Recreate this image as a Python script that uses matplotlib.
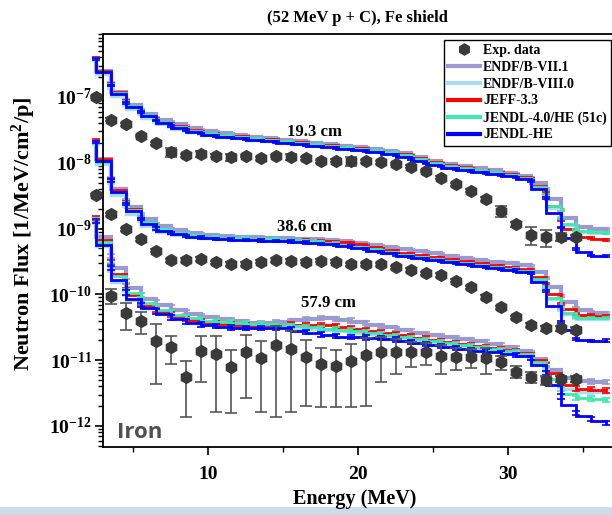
import numpy as np
import matplotlib
matplotlib.use("Agg")
import matplotlib.pyplot as plt
from matplotlib.ticker import LogLocator, NullFormatter, FixedLocator, FixedFormatter
from matplotlib.patches import Rectangle
from matplotlib.lines import Line2D

plt.rcParams['font.family'] = ['Liberation Serif', 'DejaVu Serif']
plt.rcParams['font.weight'] = 'bold'
plt.rcParams['mathtext.fontset'] = 'custom'
plt.rcParams['mathtext.rm'] = 'Liberation Serif:bold'
plt.rcParams['mathtext.it'] = 'Liberation Serif:bold'
plt.rcParams['mathtext.bf'] = 'Liberation Serif:bold'

# ---------------- data ----------------
E_sim = [2.5, 3.5, 4.5, 5.5, 6.5, 7.5, 8.5, 9.5, 10.5, 11.5, 12.5, 13.5, 14.5, 15.5, 16.5, 17.5, 18.5,
         19.5, 20.5, 21.5, 22.5, 23.5, 24.5, 25.5, 26.5, 27.5, 28.5, 29.5, 30.5, 31.5, 32.5, 33.5,
         34.5, 35.5, 36.5]
E_exp = [2.5, 3.5, 4.5, 5.5, 6.5, 7.5, 8.5, 9.5, 10.5, 11.5, 12.5, 13.5, 14.5, 15.5, 16.5, 17.5, 18.5,
         19.5, 20.5, 21.5, 22.5, 23.5, 24.5, 25.5, 26.5, 27.5, 28.5, 29.5, 30.5, 31.5, 32.5, 33.5, 34.5]
E_exp58 = E_exp[1:]

x_major_ticks = [10, 20, 30]
x_minor_ticks = [5, 15, 25, 35]
y_major_ticks = [1e-12, 1e-11, 1e-10, 1e-9, 1e-8, 1e-7]
y_tick_labels = [r'$10^{-12}$', r'$10^{-11}$', r'$10^{-10}$', r'$10^{-9}$', r'$10^{-8}$', r'$10^{-7}$']

# experimental data
exp19 = [1.0e-7, 4.5e-8, 3.85e-8, 2.55e-8, 1.98e-8, 1.45e-8, 1.3e-8, 1.37e-8, 1.29e-8, 1.22e-8,
         1.27e-8, 1.17e-8, 1.27e-8, 1.24e-8, 1.17e-8, 1.06e-8, 1.08e-8, 1.06e-8, 1.06e-8, 1.02e-8,
         9.6e-9, 8.7e-9, 7.5e-9, 5.9e-9, 4.7e-9, 3.77e-9, 2.82e-9, 1.85e-9, 1.16e-9, 8.0e-10,
         7.4e-10, 7.5e-10, 7.4e-10]
err19 = [0.04, 0.05, 0.05, 0.05, 0.05, 0.15, 0.05, 0.12, 0.05, 0.12,
         0.05, 0.05, 0.05, 0.10, 0.05, 0.05, 0.05, 0.15, 0.05, 0.05,
         0.05, 0.05, 0.05, 0.05, 0.05, 0.06, 0.08, 0.18, 0.08, 0.30,
         0.30, 0.15, 0.08]
exp38 = [3.24e-9, 1.65e-9, 9.75e-10, 6.87e-10, 4.6e-10, 3.3e-10, 3.33e-10, 3.45e-10, 3.07e-10, 2.9e-10,
         2.9e-10, 3.14e-10, 3.33e-10, 3.23e-10, 3.14e-10, 3.27e-10, 3.14e-10, 2.87e-10, 2.87e-10, 2.87e-10,
         2.58e-10, 2.35e-10, 2.09e-10, 1.97e-10, 1.62e-10, 1.28e-10, 9.2e-11, 6.37e-11, 4.49e-11, 3.43e-11,
         3.05e-11, 3.05e-11, 2.88e-11]
err38 = [0.04, 0.05, 0.05, 0.05, 0.05, 0.06, 0.06, 0.06, 0.06, 0.06,
         0.06, 0.06, 0.06, 0.06, 0.06, 0.06, 0.06, 0.06, 0.06, 0.06,
         0.06, 0.06, 0.06, 0.06, 0.06, 0.06, 0.06, 0.06, 0.06, 0.08,
         0.10, 0.10, 0.10]
exp58 = [9.55e-11, 5.16e-11, 3.98e-11, 1.98e-11, 1.6e-11, 5.5e-12, 1.39e-11, 1.26e-11, 7.96e-12, 1.32e-11,
         1.07e-11, 1.7e-11, 1.47e-11, 1.13e-11, 8.7e-12, 8.2e-12, 9.7e-12, 1.2e-11, 1.35e-11, 1.35e-11,
         1.35e-11, 1.32e-11, 1.17e-11, 1.13e-11, 1.13e-11, 1.07e-11, 9.3e-12, 6.7e-12, 5.6e-12, 5.0e-12,
         5.2e-12, 5.2e-12]
err58 = [0.25, 0.44, 0.37, 0.78, 0.45, 0.75, 0.67, 0.87, 0.80, 0.80,
         0.85, 0.92, 0.89, 0.82, 0.78, 0.76, 0.80, 0.83, 0.65, 0.54,
         0.42, 0.36, 0.47, 0.37, 0.33, 0.42, 0.24, 0.20, 0.20, 0.15,
         0.10, 0.10]

# simulations, 19.3 cm
sim19_endf71 = [3.9e-7, 1.63e-7, 9.0e-8, 6.35e-8, 4.9e-8, 4.17e-8, 3.6e-8, 3.2e-8, 2.94e-8, 2.74e-8,
                2.55e-8, 2.42e-8, 2.3e-8, 2.18e-8, 2.07e-8, 1.96e-8, 1.87e-8, 1.77e-8, 1.68e-8, 1.59e-8,
                1.48e-8, 1.31e-8, 1.12e-8, 9.9e-9, 9.1e-9, 8.5e-9, 7.9e-9, 7.4e-9, 6.75e-9, 6.0e-9,
                4.0e-9, 1.92e-9, 1.11e-9, 9.9e-10, 9.9e-10]
sim19_endf80 = [3.65e-7, 1.37e-7, 7.6e-8, 5.5e-8, 4.17e-8, 3.5e-8, 3.04e-8, 2.74e-8, 2.55e-8, 2.42e-8,
                2.3e-8, 2.18e-8, 2.11e-8, 2.0e-8, 1.9e-8, 1.8e-8, 1.71e-8, 1.62e-8, 1.54e-8, 1.46e-8,
                1.36e-8, 1.18e-8, 1.01e-8, 9.1e-9, 8.3e-9, 7.8e-9, 7.25e-9, 6.75e-9, 6.2e-9, 5.5e-9,
                3.13e-9, 1.35e-9, 9.2e-10, 8.6e-10, 8.6e-10]
sim19_jeff = [3.9e-7, 1.58e-7, 8.7e-8, 6.2e-8, 4.6e-8, 3.9e-8, 3.4e-8, 3.0e-8, 2.74e-8, 2.6e-8,
              2.47e-8, 2.34e-8, 2.22e-8, 2.11e-8, 2.0e-8, 1.9e-8, 1.8e-8, 1.71e-8, 1.62e-8, 1.54e-8,
              1.43e-8, 1.27e-8, 1.08e-8, 9.6e-9, 8.8e-9, 8.2e-9, 7.6e-9, 7.1e-9, 6.5e-9, 5.7e-9,
              3.5e-9, 1.35e-9, 7.45e-10, 7.2e-10, 6.7e-10]
sim19_jendl4 = [3.7e-7, 1.52e-7, 8.5e-8, 6.1e-8, 4.55e-8, 3.75e-8, 3.26e-8, 2.9e-8, 2.7e-8, 2.55e-8,
                2.42e-8, 2.3e-8, 2.18e-8, 2.07e-8, 1.96e-8, 1.87e-8, 1.77e-8, 1.68e-8, 1.59e-8, 1.51e-8,
                1.41e-8, 1.22e-8, 1.04e-8, 9.3e-9, 8.5e-9, 7.9e-9, 7.4e-9, 6.9e-9, 6.3e-9, 5.6e-9,
                3.24e-9, 1.45e-9, 9.5e-10, 8.9e-10, 8.6e-10]
sim19_jendlhe = [3.78e-7, 1.49e-7, 8.2e-8, 5.9e-8, 4.4e-8, 3.6e-8, 3.15e-8, 2.8e-8, 2.55e-8, 2.42e-8,
                 2.3e-8, 2.18e-8, 2.07e-8, 1.96e-8, 1.87e-8, 1.77e-8, 1.68e-8, 1.59e-8, 1.51e-8, 1.43e-8,
                 1.31e-8, 1.14e-8, 9.76e-9, 8.79e-9, 8.05e-9, 7.5e-9, 7.0e-9, 6.53e-9, 5.98e-9, 5.29e-9,
                 2.92e-9, 1.04e-9, 4.9e-10, 3.9e-10, 3.84e-10]

# simulations, 38.6 cm
sim38_endf71 = [2.14e-8, 5.9e-9, 2.72e-9, 1.66e-9, 1.17e-9, 9.9e-10, 8.9e-10, 8.3e-10, 7.85e-10, 7.6e-10,
                7.45e-10, 7.3e-10, 7.2e-10, 7.1e-10, 7.0e-10, 6.9e-10, 6.6e-10, 6.25e-10, 5.85e-10, 5.45e-10,
                5.0e-10, 4.65e-10, 4.35e-10, 4.05e-10, 3.75e-10, 3.45e-10, 3.2e-10, 3.05e-10, 2.95e-10, 2.7e-10,
                1.76e-10, 9.5e-11, 6.2e-11, 5.4e-11, 5.2e-11]
sim38_endf80 = [1.93e-8, 4.9e-9, 2.2e-9, 1.3e-9, 9.5e-10, 8.3e-10, 7.7e-10, 7.3e-10, 7.07e-10, 6.95e-10,
                6.8e-10, 6.7e-10, 6.6e-10, 6.5e-10, 6.25e-10, 6.0e-10, 5.75e-10, 5.45e-10, 5.0e-10, 4.5e-10,
                4.1e-10, 3.75e-10, 3.5e-10, 3.28e-10, 3.05e-10, 2.85e-10, 2.66e-10, 2.48e-10, 2.35e-10, 2.15e-10,
                1.25e-10, 5.8e-11, 4.4e-11, 4.2e-11, 4.2e-11]
sim38_jeff = [2.22e-8, 5.67e-9, 2.54e-9, 1.5e-9, 1.06e-9, 8.7e-10, 8.0e-10, 7.6e-10, 7.2e-10, 7.07e-10,
              6.95e-10, 6.8e-10, 6.7e-10, 6.7e-10, 6.6e-10, 6.5e-10, 6.3e-10, 6.0e-10, 5.5e-10, 4.9e-10,
              4.5e-10, 4.1e-10, 3.85e-10, 3.6e-10, 3.35e-10, 3.05e-10, 2.85e-10, 2.66e-10, 2.52e-10, 2.35e-10,
              1.44e-10, 7.1e-11, 5.0e-11, 4.85e-11, 4.7e-11]
sim38_jendl4 = [2.0e-8, 5.3e-9, 2.45e-9, 1.48e-9, 1.06e-9, 8.9e-10, 8.1e-10, 7.7e-10, 7.3e-10, 7.2e-10,
                7.07e-10, 6.95e-10, 6.8e-10, 6.7e-10, 6.5e-10, 6.25e-10, 5.95e-10, 5.5e-10, 5.07e-10, 4.57e-10,
                4.2e-10, 3.85e-10, 3.6e-10, 3.35e-10, 3.1e-10, 2.9e-10, 2.7e-10, 2.52e-10, 2.4e-10, 2.2e-10,
                1.3e-10, 6.15e-11, 4.5e-11, 4.4e-11, 4.4e-11]
sim38_jendlhe = [2.07e-8, 5.4e-9, 2.39e-9, 1.41e-9, 1.0e-9, 8.5e-10, 7.8e-10, 7.3e-10, 6.95e-10, 6.8e-10,
                 6.7e-10, 6.6e-10, 6.5e-10, 6.4e-10, 6.15e-10, 5.9e-10, 5.7e-10, 5.35e-10, 4.9e-10, 4.4e-10,
                 4.05e-10, 3.7e-10, 3.45e-10, 3.2e-10, 3.0e-10, 2.8e-10, 2.6e-10, 2.43e-10, 2.3e-10, 2.1e-10,
                 1.13e-10, 3.85e-11, 2.1e-11, 1.96e-11, 2.0e-11]

# simulations, 57.9 cm
sim58_endf71 = [1.4e-9, 3.83e-10, 1.6e-10, 9.8e-11, 7.5e-11, 6.3e-11, 5.4e-11, 4.7e-11, 4.3e-11, 4.08e-11,
                3.8e-11, 3.67e-11, 3.74e-11, 3.94e-11, 4.16e-11, 4.38e-11, 4.23e-11, 4.0e-11, 3.67e-11, 3.31e-11,
                2.98e-11, 2.73e-11, 2.5e-11, 2.33e-11, 2.17e-11, 1.99e-11, 1.86e-11, 1.7e-11, 1.53e-11, 1.28e-11,
                8.75e-12, 5.6e-12, 5.0e-12, 4.8e-12, 4.66e-12]
sim58_endf80 = [1.26e-9, 2.35e-10, 1.01e-10, 6.9e-11, 5.6e-11, 4.7e-11, 4.08e-11, 3.67e-11, 3.43e-11, 3.31e-11,
                3.25e-11, 3.2e-11, 3.2e-11, 3.14e-11, 3.03e-11, 2.92e-11, 2.83e-11, 2.68e-11, 2.55e-11, 2.37e-11,
                2.25e-11, 2.1e-11, 1.96e-11, 1.83e-11, 1.7e-11, 1.59e-11, 1.48e-11, 1.38e-11, 1.26e-11, 1.12e-11,
                6.85e-12, 4.05e-12, 3.34e-12, 3.3e-12, 3.3e-12]
sim58_jeff = [1.42e-9, 3.1e-10, 1.34e-10, 7.4e-11, 5.8e-11, 5.0e-11, 4.33e-11, 3.85e-11, 3.6e-11, 3.49e-11,
              3.37e-11, 3.31e-11, 3.43e-11, 3.49e-11, 3.46e-11, 3.43e-11, 3.31e-11, 3.08e-11, 2.83e-11, 2.64e-11,
              2.46e-11, 2.29e-11, 2.13e-11, 1.96e-11, 1.83e-11, 1.7e-11, 1.59e-11, 1.48e-11, 1.36e-11, 1.2e-11,
              8.45e-12, 4.9e-12, 3.7e-12, 3.65e-12, 3.5e-12]
sim58_jendl4 = [1.35e-9, 2.8e-10, 1.31e-10, 8.5e-11, 6.5e-11, 5.3e-11, 4.58e-11, 4.13e-11, 3.88e-11, 3.74e-11,
                3.67e-11, 3.55e-11, 3.43e-11, 3.31e-11, 3.2e-11, 3.08e-11, 2.98e-11, 2.83e-11, 2.64e-11, 2.46e-11,
                2.33e-11, 2.17e-11, 2.03e-11, 1.89e-11, 1.76e-11, 1.64e-11, 1.53e-11, 1.43e-11, 1.31e-11, 1.16e-11,
                7.35e-12, 3.65e-12, 2.66e-12, 2.6e-12, 2.5e-12]
sim58_jendlhe = [1.3e-9, 2.52e-10, 1.07e-10, 6.9e-11, 5.5e-11, 4.5e-11, 3.85e-11, 3.5e-11, 3.3e-11, 3.17e-11,
                 3.08e-11, 3.08e-11, 3.1e-11, 2.98e-11, 2.68e-11, 2.46e-11, 2.33e-11, 2.25e-11, 2.21e-11, 2.17e-11,
                 2.06e-11, 1.89e-11, 1.76e-11, 1.64e-11, 1.53e-11, 1.43e-11, 1.36e-11, 1.28e-11, 1.2e-11, 1.08e-11,
                 6.4e-12, 2.8e-12, 1.58e-12, 1.28e-12, 1.11e-12]

sim_rel_err = [0.03, 0.04, 0.08]          # per depth (19.3, 38.6, 57.9 cm)
depth_labels = ["19.3 cm", "38.6 cm", "57.9 cm"]
depth_label_pos = [(17.1, 2.97e-8), (16.4, 1.07e-9), (18.05, 7.3e-11)]
libraries = ["ENDF/B-VII.1", "ENDF/B-VIII.0", "JEFF-3.3", "JENDL-4.0/HE (51c)", "JENDL-HE"]
lib_colors = ["#9a9ad0", "#a8dcf0", "#ff0000", "#3ee8b0", "#0000ff"]
lib_widths = [3.0, 2.5, 2.0, 2.0, 2.0]
draw_order = [0, 1, 3, 2, 4]

sims = [
    [sim19_endf71, sim19_endf80, sim19_jeff, sim19_jendl4, sim19_jendlhe],
    [sim38_endf71, sim38_endf80, sim38_jeff, sim38_jendl4, sim38_jendlhe],
    [sim58_endf71, sim58_endf80, sim58_jeff, sim58_jendl4, sim58_jendlhe],
]
exps = [(E_exp, exp19, err19), (E_exp, exp38, err38), (E_exp58, exp58, err58)]

# ---------------- figure ----------------
fig = plt.figure(figsize=(6.12, 5.15), dpi=100)
ax = fig.add_axes([103 / 612, 1 - 446.5 / 515, 522 / 612, 412.5 / 515])
ax.set_yscale('log')
ax.set_xlim(3.0, 37.8)
ax.set_ylim(4.88e-13, 9.06e-7)


def vcenter_step(ax, x, y, **kw):
    """Origin-like 'step vertical center' line through the points."""
    xs = [x[0]]
    ys = [y[0]]
    for i in range(len(x) - 1):
        m = np.sqrt(y[i] * y[i + 1])
        xs += [x[i], x[i + 1]]
        ys += [m, m]
    xs.append(x[-1])
    ys.append(y[-1])
    return ax.plot(xs, ys, **kw)


def noclip(container):
    for art in container.get_children():
        art.set_clip_on(False)


for d in range(3):
    for k in draw_order:
        y = np.array(sims[d][k])
        c = lib_colors[k]
        vcenter_step(ax, E_sim, y, color=c, lw=lib_widths[k], solid_joinstyle='miter',
                     clip_on=False, zorder=2 + 0.1 * k)
        eb = ax.errorbar(E_sim, y, yerr=sim_rel_err[d] * y, fmt='none', ecolor=c,
                         elinewidth=1.0, capsize=3, capthick=1.2, zorder=2 + 0.1 * k)
        noclip(eb)

for (ex, ey, er) in exps:
    ey = np.array(ey)
    eb = ax.errorbar(ex, ey, yerr=np.array(er) * ey, fmt='h', color='#3a3a3a', ms=8.5,
                     mec='#3a3a3a', ecolor='#555555', elinewidth=1.2, capsize=4, capthick=1.2,
                     zorder=4)
    noclip(eb)

# depth labels
for lab, (xx, yy) in zip(depth_labels, depth_label_pos):
    ax.text(xx, yy, lab, ha='center', va='center', fontsize=12, fontweight='bold')

ax.text(3.95, 7.9e-13, "Iron", ha='left', va='center', fontsize=16, color='#505050',
        family=['Open Sans', 'DejaVu Sans'], fontweight='bold')

# ticks
ax.xaxis.set_major_locator(FixedLocator(x_major_ticks))
ax.xaxis.set_minor_locator(FixedLocator(x_minor_ticks))
ax.yaxis.set_major_locator(FixedLocator(y_major_ticks))
ax.yaxis.set_major_formatter(FixedFormatter(y_tick_labels))
ax.yaxis.set_minor_locator(LogLocator(base=10, subs=np.arange(2, 10), numticks=20))
ax.yaxis.set_minor_formatter(NullFormatter())
ax.tick_params(axis='both', which='major', direction='out', length=6, width=1.2, labelsize=14)
ax.tick_params(axis='both', which='minor', direction='out', length=3.5, width=1.0)
ax.tick_params(axis='x', pad=8)
ax.tick_params(axis='y', pad=2)
for lab in ax.get_xticklabels() + ax.get_yticklabels():
    lab.set_fontweight('bold')
for s in ax.spines.values():
    s.set_linewidth(1.3)

# legend
handles = [Line2D([], [], ls='none', marker='h', ms=8, color='#3a3a3a')]
labels = ["Exp. data"]
for k in range(5):
    handles.append(Line2D([], [], color=lib_colors[k], lw=3.0))
    labels.append(libraries[k])
leg = fig.legend(handles, labels, loc='upper right', bbox_to_anchor=(611 / 612, 1 - 40 / 515),
                 frameon=True, fancybox=False, edgecolor='black', framealpha=1,
                 fontsize=10, handlelength=2.3, handletextpad=0.25, labelspacing=0.27,
                 borderpad=0.3, borderaxespad=0)
leg.get_frame().set_linewidth(1.0)
for t in leg.get_texts():
    t.set_fontweight('bold')

# titles
fig.text(357 / 612, 1 - 18 / 515, "(52 MeV p + C), Fe shield", ha='center', va='center',
         fontsize=12, fontweight='bold')
fig.text(355 / 612, 1 - 499 / 515, "Energy (MeV)", ha='center', va='center',
         fontsize=14.5, fontweight='bold', zorder=20)
fig.text(24 / 612, 1 - 234 / 515, "Neutron Flux [1/MeV/cm$^{2}$/p]", ha='center', va='center',
         rotation=90, fontsize=16, fontweight='bold')

# bottom frame strip (behind the text)
fig.patches.append(Rectangle((0, 0), 1, 8 / 515, transform=fig.transFigure,
                             facecolor='#cddbea', edgecolor='none', zorder=0.5))

fig.savefig("out.png", dpi=100)
